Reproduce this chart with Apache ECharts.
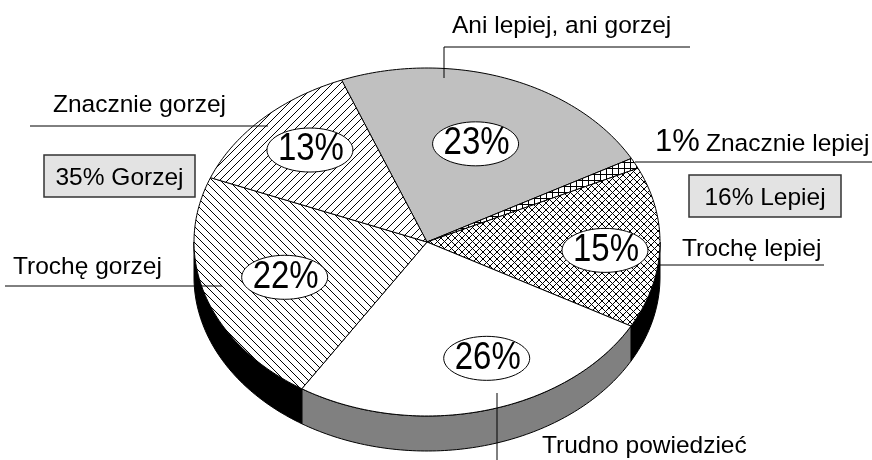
<!DOCTYPE html>
<html>
<head>
<meta charset="utf-8">
<script src="https://cdn.jsdelivr.net/npm/echarts@6/dist/echarts.min.js"></script>
<style>
html, body { margin: 0; padding: 0; background: #fff; }
#main { width: 872px; height: 460px; }
</style>
</head>
<body>
<div id="main"></div>
<script>
// dane
var names = ['Ani lepiej, ani gorzej', 'Znacznie lepiej', 'Trochę lepiej', 'Trudno powiedzieć', 'Trochę gorzej', 'Znacznie gorzej'];
var values = [23, 1, 15, 26, 22, 13];
var groupNames = ['Gorzej', 'Lepiej'];
var groupMembers = [[4, 5], [1, 2]];

var FONT = '"Liberation Sans", Arial, sans-serif';
var cx = 427, cy = 242, rx = 233, ry = 174, depth = 35;
var startAngle = -111.5;

var total = values.reduce(function (s, v) { return s + v; }, 0);
var cum = [], acc = 0;
values.forEach(function (v) { cum.push(acc); acc += v; });

/* wzory kreskowania */
function hatch(size, draw) {
    var c = document.createElement('canvas');
    c.width = size; c.height = size;
    var g = c.getContext('2d');
    g.fillStyle = '#fff';
    g.fillRect(0, 0, size, size);
    g.strokeStyle = '#000';
    g.lineWidth = 1;
    g.beginPath();
    draw(g, size);
    g.stroke();
    return { image: c, repeat: 'repeat' };
}
function slash(g, s) {
    g.moveTo(-1, s + 1); g.lineTo(s + 1, -1);
    g.moveTo(-1, 1); g.lineTo(1, -1);
    g.moveTo(s - 1, s + 1); g.lineTo(s + 1, s - 1);
}
function backslash(g, s) {
    g.moveTo(-1, -1); g.lineTo(s + 1, s + 1);
    g.moveTo(s - 1, -1); g.lineTo(s + 1, 1);
    g.moveTo(-1, s - 1); g.lineTo(1, s + 1);
}
var patSlash = hatch(8, slash);
var patBack = hatch(8, backslash);
var patCross = hatch(7, function (g, s) { slash(g, s); backslash(g, s); });
var patGrid = hatch(6, function (g, s) {
    g.moveTo(0.5, 0); g.lineTo(0.5, s);
    g.moveTo(0, 0.5); g.lineTo(s, 0.5);
});

var topFill = ['#c0c0c0', patGrid, patCross, '#ffffff', patBack, patSlash];
var wallFill = ['#808080', '#000000', '#000000', '#808080', '#000000', '#000000'];
// [ułamek promienia, dx, dy] dla etykiet procentowych
var labelPlace = [[0.6, 1, 0], null, [0.76, 1, 4], [0.69, 20, 0], [0.66, 4, 0], [0.73, 3, -2]];

function pt(t, dy) {
    var r = t * Math.PI / 180;
    return [cx + rx * Math.cos(r), cy + (dy || 0) + ry * Math.sin(r)];
}
function arc(a, b, dy) {
    var n = Math.max(2, Math.ceil(Math.abs(b - a)));
    var out = [];
    for (var i = 0; i <= n; i++) out.push(pt(a + (b - a) * i / n, dy));
    return out;
}

function renderSlice(params, api) {
    var i = params.dataIndex;
    var v = api.value(0);
    var a0 = startAngle + 360 * cum[i] / total;
    var a1 = a0 + 360 * v / total;
    var kids = [];
    for (var k = -1; k <= 1; k++) {
        var lo = Math.max(a0, 360 * k), hi = Math.min(a1, 360 * k + 180);
        if (hi > lo) {
            kids.push({
                type: 'polygon',
                shape: { points: arc(lo, hi, 0).concat(arc(hi, lo, depth)) },
                style: { fill: wallFill[i], stroke: '#000', lineWidth: 1 }
            });
        }
    }
    kids.push({
        type: 'polygon',
        shape: { points: [[cx, cy]].concat(arc(a0, a1, 0)) },
        style: { fill: topFill[i], stroke: '#000', lineWidth: 1 }
    });
    return { type: 'group', children: kids };
}

function renderLabel(params, api) {
    var i = params.dataIndex;
    var p = labelPlace[i];
    if (!p) return { type: 'group', children: [] };
    var v = api.value(0);
    var mid = startAngle + 360 * (cum[i] + v / 2) / total;
    var r = mid * Math.PI / 180;
    var x = cx + rx * p[0] * Math.cos(r) + p[1];
    var y = cy + ry * p[0] * Math.sin(r) + p[2];
    var pts = [];
    for (var a = 0; a < 360; a += 6) {
        pts.push([x + 43 * Math.cos(a * Math.PI / 180), y + 22 * Math.sin(a * Math.PI / 180)]);
    }
    return {
        type: 'group',
        children: [
            { type: 'polygon', shape: { points: pts }, style: { fill: '#fff', stroke: '#000', lineWidth: 1 } },
            {
                type: 'text', x: x + 1, y: y, scaleY: 1.15,
                style: { text: Math.round(v / total * 100) + '%', fontSize: 33, fontFamily: FONT, fill: '#000', align: 'center', verticalAlign: 'middle' }
            }
        ]
    };
}

/* opisy z liniami odniesienia */
var callouts = [
    { line: [[444, 78], [444, 47], [690, 47]], text: [452, 26] },
    { line: [[635, 162], [872, 162]], text: [706, 144], pct: [655, 142] },
    { line: [[660, 265], [824, 265]], text: [682, 249] },
    { line: [[497, 393], [497, 460]], text: [542, 446] },
    { line: [[5, 286], [222, 286]], text: [13, 267] },
    { line: [[30, 126], [268, 126]], text: [53, 105] }
];
var boxes = [[44, 155, 151, 42], [689, 175, 152, 42]];

var graphics = [];
callouts.forEach(function (c, i) {
    graphics.push({ type: 'polyline', shape: { points: c.line }, style: { stroke: '#000', lineWidth: 1, fill: null }, z: 10 });
    graphics.push({
        type: 'text', x: c.text[0], y: c.text[1], z: 10,
        style: { text: names[i], fontSize: 24.5, fontFamily: FONT, fill: '#000', align: 'left', verticalAlign: 'middle' }
    });
    if (c.pct) {
        graphics.push({
            type: 'text', x: c.pct[0], y: c.pct[1], z: 10,
            style: { text: Math.round(values[i] / total * 100) + '%', fontSize: 31, fontFamily: FONT, fill: '#000', align: 'left', verticalAlign: 'middle' }
        });
    }
});
boxes.forEach(function (b, j) {
    var sum = 0;
    groupMembers[j].forEach(function (m) { sum += values[m]; });
    graphics.push({
        type: 'rect', shape: { x: b[0], y: b[1], width: b[2], height: b[3] }, z: 10,
        style: { fill: '#e3e3e3', stroke: '#333', lineWidth: 1.5 }
    });
    graphics.push({
        type: 'text', x: b[0] + b[2] / 2, y: b[1] + b[3] / 2 + 2, z: 11,
        style: { text: Math.round(sum / total * 100) + '% ' + groupNames[j], fontSize: 24.5, fontFamily: FONT, fill: '#000', align: 'center', verticalAlign: 'middle' }
    });
});

var myChart = echarts.init(document.getElementById('main'));
var option = {
    animation: false,
    backgroundColor: '#fff',
    graphic: graphics,
    series: [
        {
            type: 'custom',
            coordinateSystem: 'none',
            silent: true,
            renderItem: renderSlice,
            data: values,
            z: 2
        },
        {
            type: 'custom',
            coordinateSystem: 'none',
            silent: true,
            renderItem: renderLabel,
            data: values,
            z: 5
        }
    ]
};
myChart.setOption(option);
</script>
</body>
</html>
